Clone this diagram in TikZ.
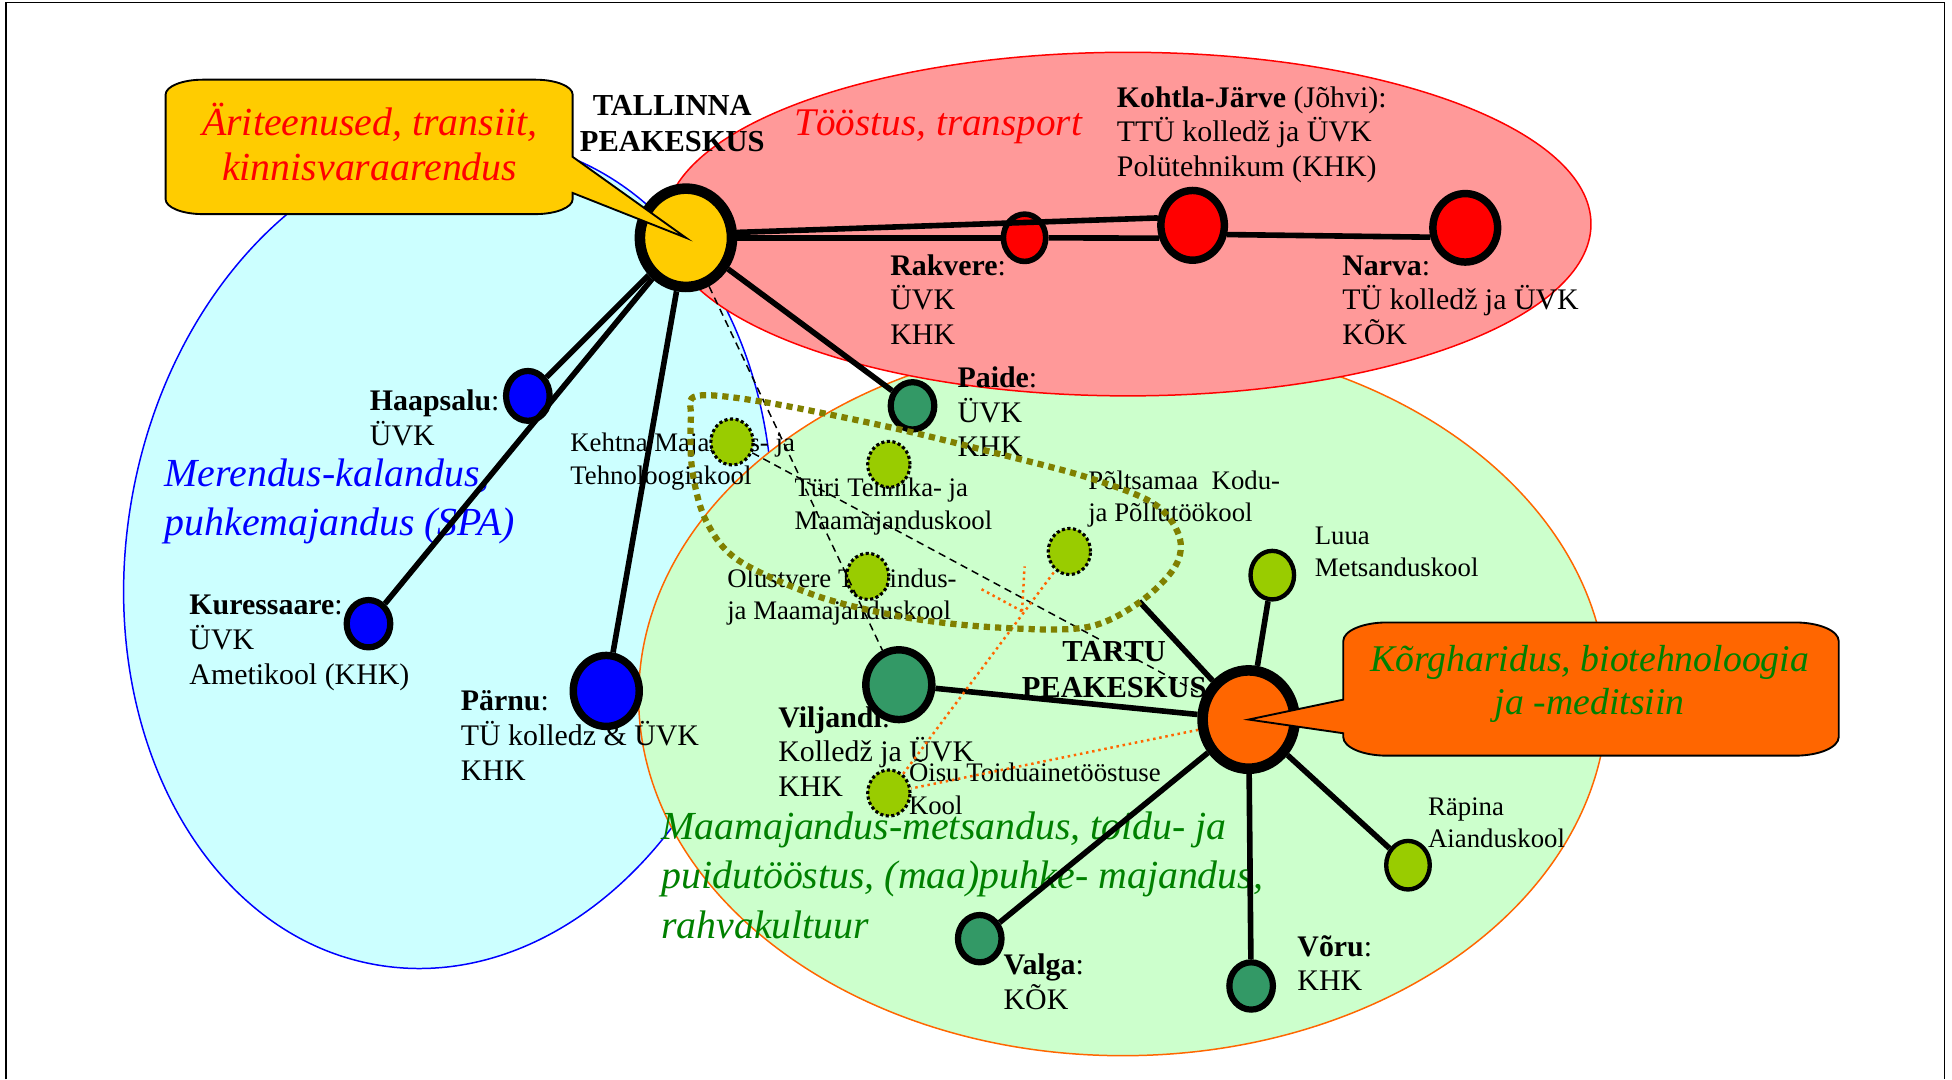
\documentclass[tikz,border=0pt]{standalone}
\usepackage{fontspec}
\setmainfont{Liberation Serif}
\usetikzlibrary{positioning}
\usetikzlibrary{shapes.geometric}
\usetikzlibrary{calc}
\definecolor{seacyan}{HTML}{CCFFFF}
\definecolor{northpink}{HTML}{FF9999}
\definecolor{southgreen}{HTML}{CCFFCC}
\definecolor{gold}{HTML}{FFCC00}
\definecolor{tartuorange}{HTML}{FF6600}
\definecolor{townteal}{HTML}{339966}
\definecolor{schoolgreen}{HTML}{99CC00}
\definecolor{grpolive}{HTML}{808000}
\definecolor{fieldgreen}{HTML}{008000}
\tikzset{
    town/.style = {ellipse, draw, inner sep=0pt, minimum width=35pt, minimum height=38pt, line width=5pt},
    bigtown/.style = {town, minimum width=53pt, minimum height=57pt, line width=6pt},
    centre/.style = {town, minimum width=74pt, minimum height=79pt, line width=8.5pt},
    school/.style = {ellipse, draw, dotted, line width=2.5pt, fill=schoolgreen, inner sep=0pt, minimum width=34pt, minimum height=37pt},
    place/.style = {anchor=base west, align=left, inner sep=0pt, font=\fontsize{24}{28}\selectfont},
    schoolname/.style = {place, font=\fontsize{21.5}{26}\selectfont},
    field/.style = {anchor=base west, align=left, inner sep=0pt, font=\fontsize{32}{39}\selectfont\itshape},
    link/.style = {line width=4.5pt},
    weak/.style = {dash pattern=on 6pt off 4pt, line width=1.2pt},
    food/.style = {tartuorange, dash pattern=on 2pt off 3pt, line width=2pt},
    groupline/.style = {grpolive, dash pattern=on 5pt off 4pt, line width=5pt},
    callout/.style = {draw, line width=1.5pt}}

\begin{document}
\begin{tikzpicture}[x=1pt, y=-1pt]
    \useasboundingbox (0,0) rectangle (1568,867);
    \draw[line width=1.5pt] (5,867) -- (5,2) -- (1562,2) -- (1562,867);
    % regions
    \filldraw[fill=seacyan, draw=blue, line width=1.2pt, rotate around={-10:(360,445)}] (360,445) ellipse [x radius=258, y radius=335];
    \filldraw[fill=southgreen, draw=tartuorange, line width=1.2pt] (902,560) ellipse [x radius=389, y radius=288];
    \filldraw[fill=northpink, draw=red, line width=1.2pt] (906,180) ellipse [x radius=372, y radius=138];
    % field texts (base = last line)
    \node[field, text=red, font=\fontsize{31.5}{39}\selectfont\itshape] (northF) at (638,109) {Tööstus, transport};
    \node[field, text=blue] (westF) at (132,430) {Merendus-kalandus,\\puhkemajandus (SPA)};
    \node[field, text=fieldgreen, font=\fontsize{32}{40}\selectfont\itshape] (southF) at (531,754) {Maamajandus-metsandus, toidu- ja\\puidutööstus, (maa)puhke- majandus,\\rahvakultuur};
    % town texts
    \node[place, anchor=base, align=center, font=\fontsize{24.5}{29}\selectfont\bfseries] (tlnT) at (540,122) {TALLINNA\\PEAKESKUS};
    \node[place, anchor=base, align=center, font=\fontsize{24.5}{29}\selectfont\bfseries] (trtT) at (895,560) {TARTU\\PEAKESKUS};
    \node[place] (kjT) at (897,142) {\textbf{Kohtla-Järve} (Jõhvi):\\TTÜ kolledž ja ÜVK\\Polütehnikum (KHK)};
    \node[place] (rakT) at (715,277) {\textbf{Rakvere}:\\ÜVK\\KHK};
    \node[place] (narT) at (1078,277) {\textbf{Narva}:\\TÜ kolledž ja ÜVK\\KÕK};
    \node[place] (paiT) at (769,367) {\textbf{Paide}:\\ÜVK\\KHK};
    \node[place] (hapT) at (297,358) {\textbf{Haapsalu}:\\ÜVK};
    \node[place] (kurT) at (152,550) {\textbf{Kuressaare}:\\ÜVK\\Ametikool (KHK)};
    \node[place] (parT) at (370,627) {\textbf{Pärnu}:\\TÜ kolledz \& ÜVK\\KHK};
    \node[place] (vilT) at (625,640) {\textbf{Viljandi}:\\Kolledž ja ÜVK\\KHK};
    \node[place] (valT) at (806,811) {\textbf{Valga}:\\KÕK};
    \node[place] (vorT) at (1042,796) {\textbf{Võru}:\\KHK};
    % school texts
    \node[schoolname] (luuT) at (1056,463) {Luua\\Metsanduskool};
    \node[schoolname] (rapT) at (1147,681) {Räpina\\Aianduskool};
    \node[schoolname] (kehT) at (458,389) {Kehtna Majandus- ja\\Tehnoloogiakool};
    \node[schoolname] (turT) at (638,425) {Türi Tehnika- ja\\Maamajanduskool};
    \node[schoolname] (polT) at (874,419) {Põltsamaa\ \ Kodu-\\ja Põllutöökool};
    \node[schoolname] (oluT) at (584,498) {Olustvere Teenindus-\\ja Maamajanduskool};
    \node[schoolname] (oisT) at (730,654) {Õisu Toiduainetööstuse\\Kool};
    % towns
    \node[centre, fill=gold] (tln) at (551,191) {};
    \node[town, fill=red, minimum width=34pt, line width=4.5pt] (rak) at (823,191) {};
    \node[bigtown, fill=red, minimum width=51pt, minimum height=56pt] (kj) at (958,181) {};
    \node[bigtown, fill=red, minimum width=52pt, minimum height=55pt] (nar) at (1177,183) {};
    \node[town, fill=blue, minimum height=40pt] (hap) at (424,318) {};
    \node[town, fill=blue] (kur) at (296,501) {};
    \node[bigtown, fill=blue] (par) at (487,555) {};
    \node[town, fill=townteal] (pai) at (733,326) {};
    \node[bigtown, fill=townteal, minimum height=56pt] (vil) at (722,550) {};
    \node[centre, fill=tartuorange] (trt) at (1003,578) {};
    \node[town, fill=townteal] (val) at (787,754) {};
    \node[town, fill=townteal] (vor) at (1005,792) {};
    \node[town, fill=schoolgreen, line width=3.5pt, minimum height=39pt] (luu) at (1022,462) {};
    \node[town, fill=schoolgreen, line width=3.5pt, minimum height=39pt] (rap) at (1131,695) {};
    % schools of the group
    \node[school] (keh) at (588,355) {};
    \node[school] (tur) at (714,373) {};
    \node[school] (pol) at (859,443) {};
    \node[school] (olu) at (697,463) {};
    \node[school] (ois) at (714,637) {};
    % links
    \draw[link] (tln) -- (rak);
    \draw[link] (rak) -- (kj.201);
    \draw[link] (tln.6) -- (kj.168);
    \draw[link] (kj.-15) -- (nar.195);
    \draw[link] (tln) -- (hap);
    \draw[link] (tln) -- (kur);
    \draw[link] (tln) -- (par);
    \draw[link] (tln) -- (pai);
    \draw[link] (trt) -- (vil);
    \draw[link] (trt) -- (luu);
    \draw[link] (trt) -- (rap);
    \draw[link] (trt) -- (val);
    \draw[link] (trt) -- (vor);
    \coordinate (grp) at (915,483);
    \draw[link] (grp) -- (trt);
    \draw[weak] (tln) -- (vil);
    \draw[weak] (keh) -- (trt);
    \coordinate (J) at (821,491);
    \coordinate (Ja) at (786,472);
    \coordinate (Jb) at (823,455);
    \draw[food] (trt) -- (ois);
    \draw[food] (ois) -- (pol);
    \draw[food] (J) -- (Ja);
    \draw[food] (J) -- (Jb);
    % group of schools
    \draw[groupline] plot[smooth cycle, tension=0.55] coordinates {(560,318) (614,323) (714,343) (800,364) (872,383) (926,404) (947,430) (944,455) (915,484) (872,504) (800,504) (728,496) (657,479) (593,450) (567,418) (556,377) (555,335)};
    % callouts
    \filldraw[callout, fill=gold] (133,76) arc[start angle=180, end angle=270, x radius=30, y radius=12] -- (430,64) arc[start angle=270, end angle=360, x radius=30, y radius=12] -- (460,126) -- (tln.center) -- (460,155) -- (460,160) arc[start angle=0, end angle=90, x radius=30, y radius=12] -- (163,172) arc[start angle=90, end angle=180, x radius=30, y radius=12] -- cycle;
    \node[field, anchor=base, align=center, text=red, font=\fontsize{32}{36}\selectfont\itshape] (tlnF) at (297,145) {Äriteenused, transiit,\\kinnisvaraarendus};
    \filldraw[callout, fill=tartuorange] (1079,515) arc[start angle=180, end angle=270, x radius=35, y radius=15] -- (1442,500) arc[start angle=270, end angle=360, x radius=35, y radius=15] -- (1477,592) arc[start angle=0, end angle=90, x radius=35, y radius=15] -- (1114,607) arc[start angle=90, end angle=180, x radius=35, y radius=15] -- (1079,589) -- (trt.center) -- (1079,562) -- cycle;
    \node[field, anchor=base, align=center, text=fieldgreen, font=\fontsize{30.3}{35}\selectfont\itshape] (trtF) at (1277,574) {Kõrgharidus, biotehnoloogia\\ja -meditsiin};
\end{tikzpicture}
\end{document}
